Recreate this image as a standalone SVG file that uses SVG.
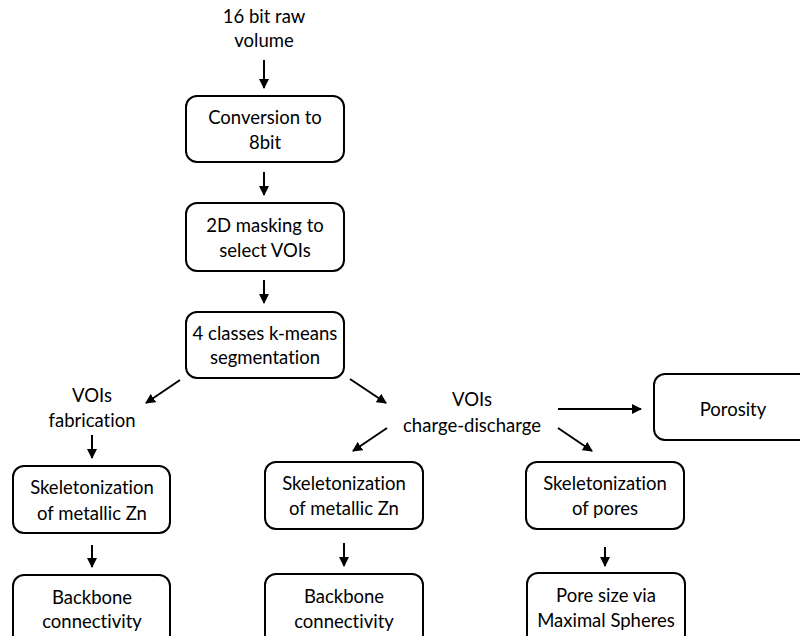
<svg xmlns="http://www.w3.org/2000/svg" width="800" height="636" viewBox="0 0 800 636">
<defs>
<style>
text{font-family:Lato,"Open Sans","Liberation Sans",sans-serif;font-size:18.5px;fill:#000;text-anchor:middle;font-variant-ligatures:none}
.box{fill:#fff;stroke:#000;stroke-width:2}
.c line{stroke:#000;stroke-width:2;marker-end:url(#ah)}
</style>
<marker id="ah" viewBox="0 0 10 10" refX="9" refY="5" markerWidth="5" markerHeight="5" orient="auto" markerUnits="strokeWidth">
<path d="M0,0 L10,5 L0,10 z" fill="#000"/>
</marker>
</defs>
<rect width="800" height="636" fill="#fff"/>
<g id="input"><text x="264" y="23">16 bit raw</text><text x="264" y="47">volume</text></g>
<g id="conv"><rect class="box" x="186" y="96" width="158" height="66" rx="11"/><text x="265" y="124">Conversion to</text><text x="265" y="149">8bit</text></g>
<g id="mask"><rect class="box" x="186" y="203" width="158" height="68" rx="11"/><text x="265" y="232">2D masking to</text><text x="265" y="257">select VOIs</text></g>
<g id="kmeans"><rect class="box" x="186" y="312" width="158" height="66" rx="11"/><text x="265" y="340">4 classes k-means</text><text x="265" y="364">segmentation</text></g>
<g id="fab"><text x="92" y="402">VOIs</text><text x="92" y="427">fabrication</text></g>
<g id="cd"><text x="472" y="406">VOIs</text><text x="472" y="432">charge-discharge</text></g>
<g id="porosity"><rect class="box" x="654" y="374" width="160" height="66" rx="11"/><text x="733" y="416">Porosity</text></g>
<g id="skelL"><rect class="box" x="13" y="466" width="157" height="67" rx="11"/><text x="92" y="494">Skeletonization</text><text x="92" y="520">of metallic Zn</text></g>
<g id="backL"><rect class="box" x="13" y="575" width="157" height="80" rx="11"/><text x="92" y="604">Backbone</text><text x="92" y="628">connectivity</text></g>
<g id="skelM"><rect class="box" x="265" y="462" width="158" height="67" rx="11"/><text x="344" y="490">Skeletonization</text><text x="344" y="515">of metallic Zn</text></g>
<g id="backM"><rect class="box" x="265" y="574" width="158" height="80" rx="11"/><text x="344" y="603">Backbone</text><text x="344" y="628">connectivity</text></g>
<g id="skelR"><rect class="box" x="526" y="462" width="158" height="67" rx="11"/><text x="605" y="490">Skeletonization</text><text x="605" y="515">of pores</text></g>
<g id="poresize"><rect class="box" x="527" y="573" width="158" height="80" rx="11"/><text x="606" y="602">Pore size via</text><text x="606" y="627">Maximal Spheres</text></g>
<g class="c" id="connectors">
<line x1="264" y1="60" x2="264" y2="88"/>
<line x1="264" y1="172" x2="264" y2="195"/>
<line x1="264" y1="280" x2="264" y2="303"/>
<line x1="180" y1="380" x2="146" y2="403"/>
<line x1="350" y1="379" x2="386" y2="403"/>
<line x1="92" y1="435" x2="92" y2="458"/>
<line x1="92" y1="545" x2="92" y2="567"/>
<line x1="558" y1="409" x2="641" y2="409"/>
<line x1="387" y1="428" x2="353" y2="451"/>
<line x1="558" y1="428" x2="592" y2="451"/>
<line x1="344" y1="543" x2="344" y2="566"/>
<line x1="605" y1="547" x2="605" y2="566"/>
</g>
</svg>
